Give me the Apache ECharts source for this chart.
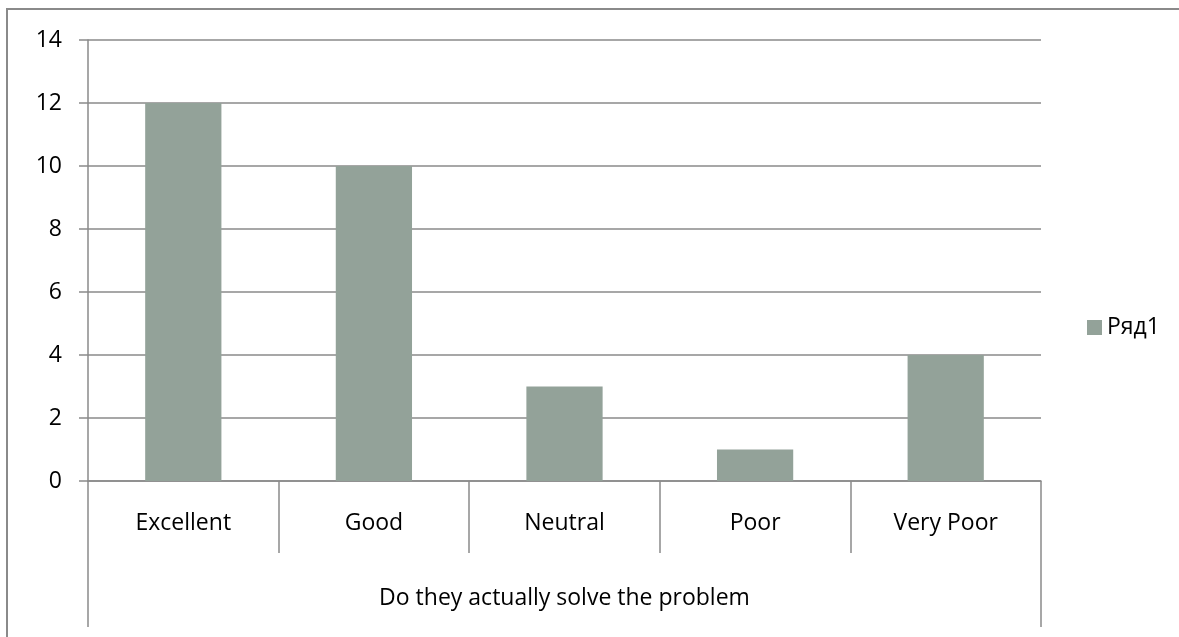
<!DOCTYPE html>
<html>
<head>
<meta charset="utf-8">
<script src="https://cdn.jsdelivr.net/npm/echarts@6/dist/echarts.min.js"></script>
<style>
  html, body { margin: 0; padding: 0; background: #fff; }
  #chart { width: 1179px; height: 637px; }
</style>
</head>
<body>
<div id="chart"></div>
<script>
// Survey answers and counts
const categories = ['Excellent', 'Good', 'Neutral', 'Poor', 'Very Poor'];
const counts = [12, 10, 3, 1, 4];
const groupLabel = ['Do they actually solve the problem'];
const seriesName = 'Ряд1';

const gridColor = '#8a8a8a';
const barColor = '#93a299';
const font = 'Open Sans';
const fontSize = 23;

const chart = echarts.init(document.getElementById('chart'));
chart.setOption({
  animation: false,
  backgroundColor: '#fff',
  textStyle: { fontFamily: font },
  graphic: [{
    type: 'rect',
    shape: { x: 7, y: 9, width: 1200, height: 700 },
    style: { fill: 'none', stroke: gridColor, lineWidth: 2 },
    silent: true
  }],
  grid: { left: 88, right: 138, top: 40, bottom: 156 },
  legend: {
    data: [seriesName],
    left: 1082,
    top: 311,
    icon: 'rect',
    itemWidth: 15,
    itemHeight: 15,
    itemGap: 7,
    textStyle: { fontSize: fontSize, color: '#000', fontFamily: font }
  },
  xAxis: [{
    type: 'category',
    data: categories,
    position: 'bottom',
    axisLine: { show: true, lineStyle: { color: gridColor, width: 1.5 } },
    axisTick: { show: true, interval: 0, length: 72, lineStyle: { color: gridColor, width: 1.5 } },
    axisLabel: { fontSize: fontSize, color: '#000', margin: 31, interval: 0 }
  }, {
    type: 'category',
    data: groupLabel,
    position: 'bottom',
    axisLine: { show: false },
    axisTick: { show: true, length: 146, lineStyle: { color: gridColor, width: 1.5 } },
    axisLabel: { fontSize: fontSize, color: '#000', margin: 106 }
  }],
  yAxis: {
    type: 'value',
    min: 0,
    max: 14,
    interval: 2,
    axisLine: { show: true, lineStyle: { color: gridColor, width: 1.5 } },
    axisTick: { show: true, length: 9, lineStyle: { color: gridColor, width: 1.5 } },
    axisLabel: { fontSize: fontSize, color: '#000', margin: 26 },
    splitLine: { show: true, lineStyle: { color: gridColor, width: 1.5 } }
  },
  series: [{
    name: seriesName,
    type: 'bar',
    xAxisIndex: 0,
    data: counts,
    barWidth: '40%',
    itemStyle: { color: barColor }
  }]
});
</script>
</body>
</html>
